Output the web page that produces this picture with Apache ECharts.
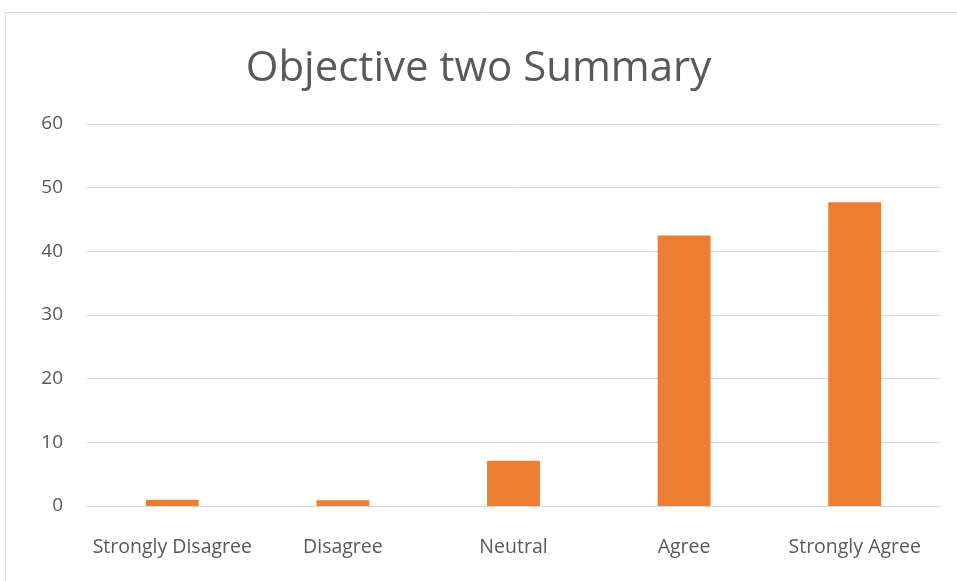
<!DOCTYPE html>
<html>
<head>
<meta charset="utf-8">
<script src="https://cdn.jsdelivr.net/npm/echarts@6/dist/echarts.min.js"></script>
<style>
  html, body { margin: 0; padding: 0; background: #fff; }
  #chart { width: 957px; height: 581px; }
</style>
</head>
<body>
<div id="chart"></div>
<script>
// chart data
const categories = ['Strongly Disagree', 'Disagree', 'Neutral', 'Agree', 'Strongly Agree']
const values = [1.0, 0.9, 7.1, 42.5, 47.7]
const yTicks = [0, 10, 20, 30, 40, 50, 60]

const textColor = '#595959'
const chart = echarts.init(document.getElementById('chart'))

chart.setOption({
  animation: false,
  textStyle: { fontFamily: 'Open Sans' },
  title: {
    text: 'Objective two Summary',
    left: 'center',
    top: 43,
    textStyle: {
      fontFamily: 'Open Sans',
      fontSize: 42,
      fontWeight: 'normal',
      color: textColor
    }
  },
  // outer chart frame
  graphic: [{
    type: 'rect',
    shape: { x: 5.5, y: 12.5, width: 1000, height: 700 },
    style: { fill: 'none', stroke: '#d9d9d9', lineWidth: 1 },
    silent: true
  }],
  grid: {
    left: 87,
    right: 17,
    top: 124,
    bottom: 75
  },
  xAxis: {
    type: 'category',
    data: categories,
    axisLine: { show: true, lineStyle: { color: '#d9d9d9' } },
    axisTick: { show: false },
    axisLabel: {
      color: textColor,
      fontSize: 19.5,
      margin: 31,
      interval: 0
    }
  },
  yAxis: {
    type: 'value',
    min: yTicks[0],
    max: yTicks[yTicks.length - 1],
    interval: 10,
    axisLine: { show: false },
    axisTick: { show: false },
    axisLabel: {
      color: textColor,
      fontSize: 19,
      margin: 24
    },
    splitLine: { lineStyle: { color: '#d9d9d9', width: 1 } }
  },
  series: [{
    type: 'bar',
    data: values,
    barWidth: '31%',
    itemStyle: { color: '#ed7d31' }
  }]
})
</script>
</body>
</html>
